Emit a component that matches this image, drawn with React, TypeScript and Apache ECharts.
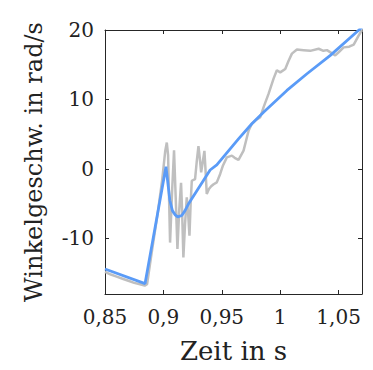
import React, { useEffect, useRef } from "react";
import * as echarts from "echarts";

const measuredTime = [0.85, 0.855, 0.86, 0.865, 0.87, 0.875, 0.88, 0.884, 0.886, 0.89, 0.895, 0.899, 0.9015, 0.9029, 0.904, 0.9057, 0.9075, 0.9091, 0.9105, 0.912, 0.9135, 0.9151, 0.916, 0.9171, 0.9185, 0.92, 0.9212, 0.9223, 0.9233, 0.9243, 0.9271, 0.9285, 0.93, 0.9312, 0.9323, 0.9337, 0.9351, 0.936, 0.9371, 0.939, 0.9409, 0.943, 0.9457, 0.9486, 0.951, 0.9543, 0.9586, 0.961, 0.9643, 0.9686, 0.9729, 0.9757, 0.979, 0.9829, 0.986, 0.99, 0.9943, 0.9971, 1.0, 1.0043, 1.007, 1.01, 1.0143, 1.02, 1.0257, 1.0329, 1.037, 1.04, 1.0471, 1.05, 1.0543, 1.059, 1.0629, 1.0671, 1.07];
const measuredValues = [-14.8, -15.2, -15.5, -15.8, -16.1, -16.4, -16.6, -16.8, -16.6, -12.0, -6.5, -1.5, 2.5, 3.8, 2.0, -10.6, -3.0, 2.7, -4.0, -11.5, -6.0, -2.0, -6.0, -12.75, -8.0, -4.1, -6.5, -9.6, -5.0, -1.7, -1.45, 1.0, 3.3, 1.5, -0.5, 1.0, 2.6, 0.0, -3.6, -2.9, -2.5, -2.2, -1.93, -0.72, 0.5, 1.67, 1.92, 1.6, 1.3, 2.64, 5.5, 6.5, 7.0, 7.45, 9.0, 10.8, 13.0, 14.2, 13.9, 14.4, 15.5, 16.6, 17.2, 17.1, 17.0, 17.3, 17.0, 17.1, 16.35, 16.8, 17.5, 17.6, 17.9, 19.2, 20.0];

const fitTime = [0.85, 0.8843, 0.9022, 0.9055, 0.9077, 0.91, 0.9123, 0.9157, 0.9185, 0.9214, 0.94, 0.9457, 0.9643, 0.9757, 0.9857, 1.0057, 1.0229, 1.0429, 1.0671, 1.07];
const fitValues = [-14.4, -16.5, 0.33, -4.5, -6.0, -6.6, -6.9, -6.7, -6.0, -5.05, -0.15, 0.58, 4.33, 6.5, 8.17, 11.3, 13.7, 16.35, 19.96, 20.4];

const xTicks = [0.85, 0.9, 0.95, 1, 1.05];
const yTicks = [-10, 0, 10, 20];

const FONT = "DejaVu Serif";
const TEXT = "#222222";
const AXIS = "#262626";

export default function App() {
  const ref = useRef<HTMLDivElement>(null);
  useEffect(() => {
    if (!ref.current) return;
    const chart = echarts.init(ref.current, null, { renderer: "svg" });
    const fmt = (v: number) => String(Math.round(v * 100) / 100).replace(".", ",");
    const axisLine = { show: true, onZero: false, lineStyle: { color: AXIS, width: 1 } };
    chart.setOption({
      animation: false,
      textStyle: { fontFamily: FONT },
      grid: { left: 105, right: 11, top: 30, bottom: 76, containLabel: false },
      xAxis: [
        {
          type: "value",
          min: 0.85,
          max: 1.07,
          name: "Zeit in s",
          nameLocation: "middle",
          nameGap: 44,
          nameTextStyle: { fontFamily: FONT, fontSize: 26, color: TEXT },
          axisLine,
          axisTick: { show: true, inside: true, length: 4, customValues: xTicks, lineStyle: { color: AXIS } },
          axisLabel: { customValues: xTicks, formatter: fmt, fontFamily: FONT, fontSize: 20, color: TEXT, margin: 13 },
          splitLine: { show: false },
        },
        {
          type: "value",
          position: "top",
          min: 0.85,
          max: 1.07,
          axisLine,
          axisTick: { show: true, inside: true, length: 4, customValues: xTicks, lineStyle: { color: AXIS } },
          axisLabel: { show: false },
          splitLine: { show: false },
        },
      ],
      yAxis: [
        {
          type: "value",
          min: -18,
          max: 20,
          name: "Winkelgeschw. in rad/s",
          nameLocation: "middle",
          nameGap: 59,
          nameTextStyle: { fontFamily: FONT, fontSize: 24, color: TEXT },
          axisLine,
          axisTick: { show: true, inside: true, length: 4, customValues: yTicks, lineStyle: { color: AXIS } },
          axisLabel: { customValues: yTicks, formatter: fmt, fontFamily: FONT, fontSize: 20, color: TEXT, margin: 11 },
          splitLine: { show: false },
        },
        {
          type: "value",
          position: "right",
          min: -18,
          max: 20,
          axisLine,
          axisTick: { show: true, inside: true, length: 4, customValues: yTicks, lineStyle: { color: AXIS } },
          axisLabel: { show: false },
          splitLine: { show: false },
        },
      ],
      series: [
        {
          type: "line",
          data: measuredTime.map((t, i) => [t, measuredValues[i]]),
          showSymbol: false,
          symbol: "none",
          lineStyle: { color: "#bfbfbf", width: 2.5 },
          clip: true,
        },
        {
          type: "line",
          data: fitTime.map((t, i) => [t, fitValues[i]]),
          showSymbol: false,
          symbol: "none",
          lineStyle: { color: "#5a9bf7", width: 2.8 },
          clip: true,
        },
      ],
    });
    return () => chart.dispose();
  }, []);
  return <div ref={ref} style={{ width: 373, height: 370, margin: -8 }} />;
}
